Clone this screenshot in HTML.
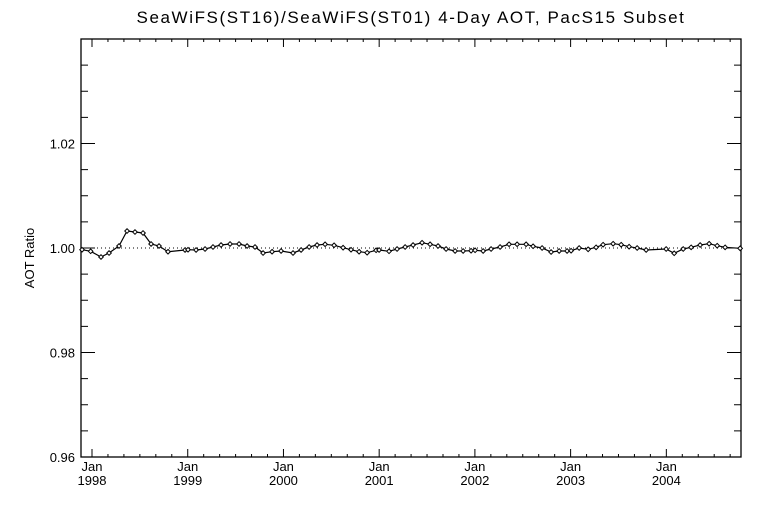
<!DOCTYPE html>
<html><head><meta charset="utf-8"><style>
html,body{margin:0;padding:0;background:#fff;}
svg{display:block;font-family:"Liberation Sans",sans-serif;}
</style></head><body>
<svg id="chart" width="768" height="512" viewBox="0 0 768 512" xmlns="http://www.w3.org/2000/svg">
<rect width="768" height="512" fill="#fff"/>
<text x="411" y="23" text-anchor="middle" font-size="17" letter-spacing="1.6">SeaWiFS(ST16)/SeaWiFS(ST01) 4-Day AOT, PacS15 Subset</text>
<text transform="translate(34,258) rotate(-90)" text-anchor="middle" font-size="13">AOT Ratio</text>
<g id="axes"></g>
<g id="series"></g>
</svg>
<script>
const dates = [1997.896,1997.986,1998.094,1998.178,1998.282,1998.366,1998.449,1998.533,1998.617,1998.700,1998.794,1998.972,1999.003,1999.087,1999.181,1999.264,1999.348,1999.442,1999.536,1999.620,1999.703,1999.787,1999.881,1999.975,2000.100,2000.184,2000.268,2000.351,2000.435,2000.529,2000.623,2000.706,2000.790,2000.874,2000.968,2000.999,2001.103,2001.187,2001.271,2001.354,2001.448,2001.532,2001.615,2001.699,2001.793,2001.877,2001.960,2002.002,2002.086,2002.169,2002.263,2002.357,2002.441,2002.535,2002.608,2002.702,2002.796,2002.880,2002.963,2003.005,2003.089,2003.183,2003.266,2003.339,2003.444,2003.528,2003.611,2003.695,2003.789,2003.998,2004.082,2004.176,2004.259,2004.353,2004.447,2004.531,2004.614,2004.771];
const ratios = [0.99967,0.99937,0.99828,0.99904,1.00038,1.00325,1.00306,1.00287,1.00077,1.00038,0.99929,0.99962,0.99967,0.99962,0.99981,1.00019,1.00057,1.00077,1.00077,1.00038,1.00019,0.99904,0.99929,0.99943,0.99904,0.99962,1.00019,1.00057,1.00071,1.00052,1.00006,0.99967,0.99929,0.99910,0.99956,0.99962,0.99937,0.99981,1.00019,1.00057,1.00101,1.00071,1.00038,0.99981,0.99943,0.99943,0.99948,0.99956,0.99943,0.99981,1.00019,1.00071,1.00071,1.00071,1.00033,1.00000,0.99923,0.99943,0.99943,0.99948,1.00000,0.99975,1.00013,1.00063,1.00082,1.00063,1.00025,1.00000,0.99962,0.99981,0.99899,0.99981,1.00013,1.00057,1.00082,1.00044,1.00013,0.99994];
const yTicks = [0.96,0.98,1.00,1.02];
const yTickLabels = ["0.96","0.98","1.00","1.02"];
const xYears = [1998,1999,2000,2001,2002,2003,2004];
const xTickLabels = ["1998","1999","2000","2001","2002","2003","2004"];

const L=81,R=741,T=39,B=457;
const xMin=1997.885,xMax=2004.78,yMin=0.96,yMax=1.04;
const sx=v=>L+(v-xMin)/(xMax-xMin)*(R-L);
const sy=v=>B-(v-yMin)/(yMax-yMin)*(B-T);
const NS="http://www.w3.org/2000/svg";
function mk(tag,attrs,parent){const e=document.createElementNS(NS,tag);for(const k in attrs)e.setAttribute(k,attrs[k]);parent.appendChild(e);return e;}
const ax=document.getElementById('axes'), se=document.getElementById('series');

const frame=mk('rect',{x:L,y:T,width:R-L,height:B-T,fill:'none',stroke:'#000','stroke-width':1.3},ax);



for(let v=yMin;v<=yMax+1e-9;v+=0.005){
  const y=sy(v);const major=Math.round(v*1000)%20===0;
  const len=major?14:7;
  const t1=mk('line',{x1:L,x2:L+len,y1:y,y2:y,stroke:'#000'},ax);
  
  
  const t2=mk('line',{x1:R,x2:R-len,y1:y,y2:y,stroke:'#000'},ax);
  
  
}
yTicks.forEach((v,i)=>{
  const t=mk('text',{x:L-6,y:sy(v)+5,'text-anchor':'end','font-size':13},ax);
  t.textContent=yTickLabels[i];
  
  
});
for(let m=-2;m<=84;m+=2){
  const v=1998+m/12; if(v<xMin||v>xMax)continue;
  const x=sx(v);const major=m%12===0;const len=major?8:3;
  const t1=mk('line',{x1:x,x2:x,y1:B,y2:B-len,stroke:'#000'},ax);
  
  
  const t2=mk('line',{x1:x,x2:x,y1:T,y2:T+len,stroke:'#000'},ax);
  
  
}
xYears.forEach((yr,i)=>{
  const x=sx(yr);
  const a=mk('text',{x:x,y:B+14,'text-anchor':'middle','font-size':13},ax);
  a.textContent='Jan';
  
  
  const b=mk('text',{x:x,y:B+28,'text-anchor':'middle','font-size':13},ax);
  b.textContent=xTickLabels[i];
  
  
});
const ref=mk('line',{x1:L,x2:R,y1:sy(1),y2:sy(1),stroke:'#000','stroke-dasharray':'1 3'},se);


const pts=dates.map((d,i)=>sx(d).toFixed(1)+','+sy(ratios[i]).toFixed(1)).join(' ');
const pl=mk('polyline',{points:pts,fill:'none',stroke:'#000','stroke-width':1.2},se);


dates.forEach((d,i)=>{
  const x=sx(d),y=sy(ratios[i]);
  const p=mk('polygon',{points:`${x},${y-2.3} ${x+2.3},${y} ${x},${y+2.3} ${x-2.3},${y}`,fill:'#fff',stroke:'#000','stroke-width':1},se);
  
  
});
</script>
</body></html>
